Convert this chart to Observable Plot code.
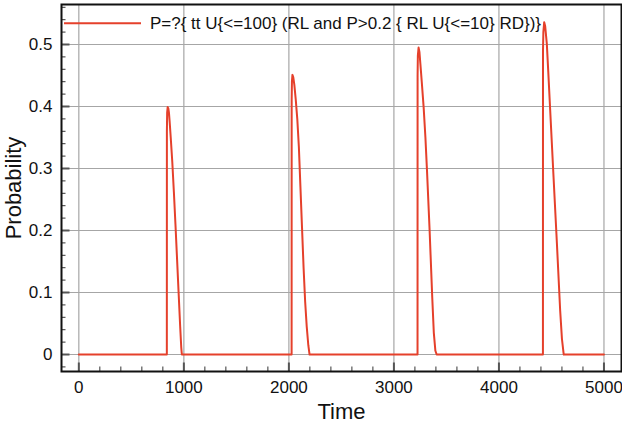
<!DOCTYPE html>
<html><head><meta charset="utf-8">
<script src="https://cdn.jsdelivr.net/npm/d3@7"></script>
<script src="https://cdn.jsdelivr.net/npm/@observablehq/plot@0.6"></script>
<style>
body{margin:0;background:#fff}
svg{display:block}
</style>
</head><body><div id="chart"></div>
<script>
// Series
const time = [0, 838, 838.5, 841, 846, 852, 858, 865, 875, 890, 905, 920, 935, 950, 965, 975, 981,
  2026, 2026.5, 2029, 2034, 2042, 2052, 2065, 2080, 2095, 2110, 2125, 2140, 2155, 2170, 2185, 2197,
  3225, 3225.5, 3228, 3235, 3243, 3252, 3265, 3283, 3300, 3315, 3340, 3365, 3380, 3395, 3407,
  4419, 4419.5, 4423, 4431, 4440, 4456, 4470, 4488, 4520, 4552, 4583, 4600, 4617, 5000];
const probability = [0, 0, 0.36, 0.39, 0.399, 0.397, 0.39, 0.375, 0.35, 0.31, 0.262, 0.21, 0.155, 0.1, 0.045, 0.012, 0,
  0, 0.41, 0.44, 0.451, 0.447, 0.435, 0.412, 0.38, 0.335, 0.27, 0.205, 0.14, 0.085, 0.045, 0.015, 0,
  0, 0.45, 0.482, 0.495, 0.488, 0.469, 0.44, 0.399, 0.35, 0.297, 0.2, 0.092, 0.035, 0.006, 0,
  0, 0.49, 0.52, 0.536, 0.53, 0.501, 0.455, 0.394, 0.286, 0.179, 0.071, 0.025, 0, 0];
const seriesLabel = "P=?{ tt U{<=100} (RL and P>0.2 { RL U{<=10} RD})}";
const xTicks = [0, 1000, 2000, 3000, 4000, 5000];
const xMinorTicks = [200, 400, 600, 800, 1200, 1400, 1600, 1800, 2200, 2400, 2600, 2800, 3200, 3400, 3600, 3800, 4200, 4400, 4600, 4800];
const yTicks = [0, 0.1, 0.2, 0.3, 0.4, 0.5];
const yMinorTicks = [-0.02, 0.02, 0.04, 0.06, 0.08, 0.12, 0.14, 0.16, 0.18, 0.22, 0.24, 0.26, 0.28, 0.32, 0.34, 0.36, 0.38, 0.42, 0.44, 0.46, 0.48, 0.52, 0.54, 0.56];
const xLabel = "Time";
const yLabel = "Probability";

const data = time.map((t, i) => ({t, p: probability[i]}));

const W = 622, H = 425, mL = 61, mR = 1, mT = 4, mB = 54;
const pw = W - mL - mR, ph = H - mT - mB;
const red = "#e5402b";
const font = "'Liberation Sans', Arial, Helvetica, sans-serif";

const svg = Plot.plot({
  width: W, height: H,
  marginLeft: mL, marginRight: mR, marginTop: mT, marginBottom: mB,
  style: {fontFamily: font, fontSize: "17px", background: "#fff", color: "#111", overflow: "visible"},
  x: {domain: [-165, 5167]},
  y: {domain: [-0.0274, 0.5645]},
  marks: [
    Plot.gridX(xTicks, {stroke: "#a6a6a6", strokeOpacity: 1, strokeWidth: 1.2}),
    Plot.gridY(yTicks, {stroke: "#a6a6a6", strokeOpacity: 1, strokeWidth: 1.2}),
    Plot.line(data, {x: "t", y: "p", stroke: red, strokeWidth: 2, clip: true}),
    // inward ticks
    Plot.ruleX(xMinorTicks, {insetTop: ph - 4.5, stroke: "#333", strokeWidth: 1}),
    Plot.ruleX(xTicks, {insetTop: ph - 8.5, stroke: "#555", strokeWidth: 2}),
    Plot.ruleY(yMinorTicks, {insetRight: pw - 4.5, stroke: "#333", strokeWidth: 1}),
    Plot.ruleY(yTicks, {insetRight: pw - 8.5, stroke: "#555", strokeWidth: 2}),
    Plot.frame({stroke: "#111", strokeWidth: 2}),
    Plot.axisX(xTicks, {tickSize: 0, tickPadding: 9, fontSize: 17, label: null, fill: "#111", tickFormat: d => String(d)}),
    Plot.axisY(yTicks, {tickSize: 0, tickPadding: 9, fontSize: 17, label: null, fill: "#111", tickFormat: d => String(d)}),
    Plot.text([xLabel], {frameAnchor: "bottom", lineAnchor: "middle", textAnchor: "middle", dy: 40, fontSize: 22, fill: "#111"}),
    Plot.text([yLabel], {frameAnchor: "left", rotate: -90, lineAnchor: "middle", textAnchor: "middle", dx: -48, fontSize: 22, fill: "#111"})
  ]
});

// legend inside the plot area, top-left
const g = d3.select(svg).append("g").attr("class", "legend");
g.append("line").attr("x1", 64).attr("x2", 141).attr("y1", 23.3).attr("y2", 23.3)
  .attr("stroke", red).attr("stroke-width", 2);
g.append("text").attr("x", 150).attr("y", 23.3).attr("dy", "0.35em")
  .attr("text-anchor", "start")
  .attr("font-size", 17).attr("font-family", font).attr("fill", "#111").text(seriesLabel);

document.getElementById("chart").appendChild(svg);
</script>
</body></html>
